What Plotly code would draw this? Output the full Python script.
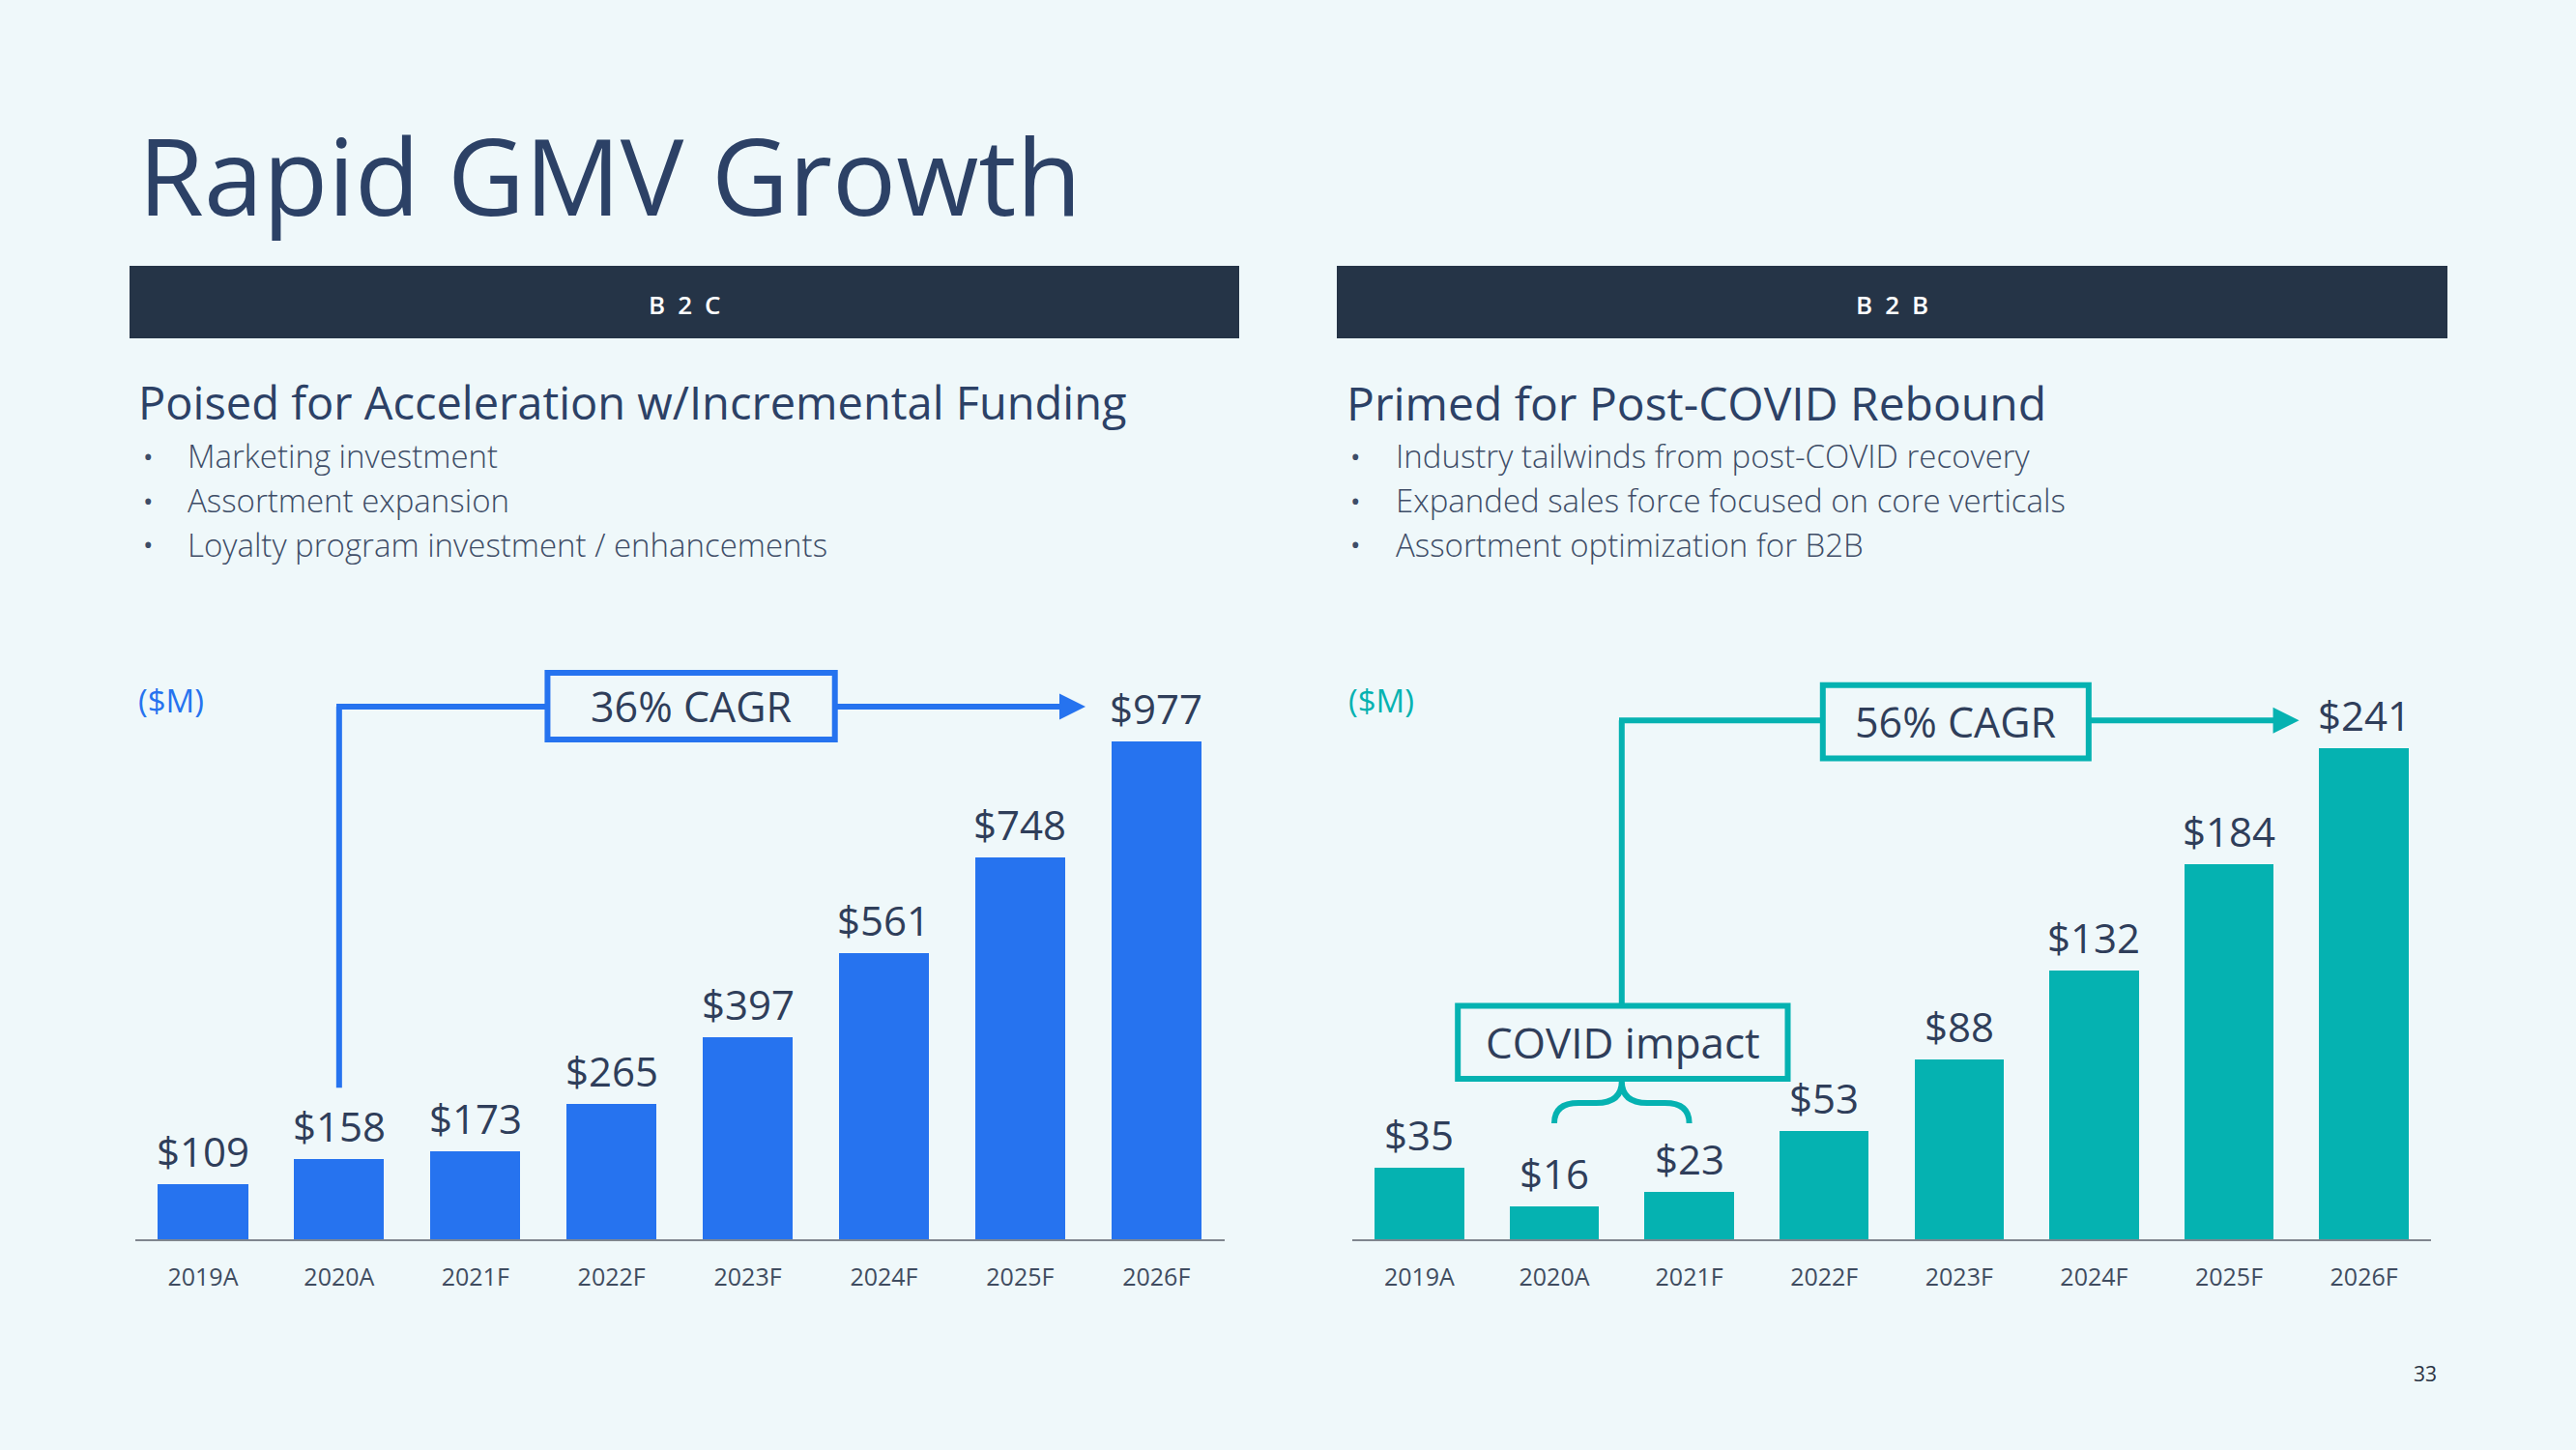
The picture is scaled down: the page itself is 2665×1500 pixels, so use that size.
import plotly.graph_objects as go

# ---------------- data ----------------
categories = ["2019A", "2020A", "2021F", "2022F", "2023F", "2024F", "2025F", "2026F"]
b2c_values = [109, 158, 173, 265, 397, 561, 748, 977]
b2b_values = [35, 16, 23, 53, 88, 132, 184, 241]
b2c_cagr_label = "36% CAGR"
b2b_cagr_label = "56% CAGR"
covid_label = "COVID impact"
unit_label = "($M)"
title_text = "Rapid GMV Growth"
b2c_header = "B\u20022\u2002C"
b2b_header = "B\u20022\u2002B"
b2c_subtitle = "Poised for Acceleration w/Incremental Funding"
b2b_subtitle = "Primed for Post-COVID Rebound"
b2c_bullets = ["Marketing investment", "Assortment expansion",
               "Loyalty program investment / enhancements"]
b2b_bullets = ["Industry tailwinds from post-COVID recovery",
               "Expanded sales force focused on core verticals",
               "Assortment optimization for B2B"]
page_number = "33"

# ---------------- style ----------------
W, H = 2665, 1500
FONT = "Open Sans"
BG = "#EFF8FA"
BLUE = "#2673EF"
TEAL = "#05B2B1"
NAVY = "#2C4166"
DARK = "#253447"
LABEL = "#2F3E5A"
BODY = "#3E4D67"
TICK = "#3F4C60"
AXIS = "#80868E"
LW = 6


def fx(p):
    return p / W


def fy(p):
    return 1 - p / H


LEFT_DOM = (139.5, 1266.7)
RIGHT_DOM = (1398.6, 2515.4)
Y_BOTTOM, Y_TOP = 1282, 640
b2c_ymax = 1217
b2b_ymax = 304.3

xs = list(range(len(categories)))

fig = go.Figure()
fig.add_trace(go.Bar(x=xs, y=b2c_values, marker=dict(color=BLUE, line=dict(width=0)),
                     width=0.662, xaxis="x", yaxis="y", hoverinfo="skip"))
fig.add_trace(go.Bar(x=xs, y=b2b_values, marker=dict(color=TEAL, line=dict(width=0)),
                     width=0.662, xaxis="x2", yaxis="y2", hoverinfo="skip"))

ann = []
shapes = []

# value labels
for xr, yr, vals in (("x", "y", b2c_values), ("x2", "y2", b2b_values)):
    for i, v in zip(xs, vals):
        ann.append(dict(x=i, y=v, xref=xr, yref=yr, text=f"${v}", showarrow=False,
                        yanchor="bottom", yshift=4,
                        font=dict(family=FONT, size=42, color=LABEL, weight=500)))

# header bars
for (x0, x1), txt in (((134, 1282), b2c_header), ((1383, 2532), b2b_header)):
    shapes.append(dict(type="rect", xref="paper", yref="paper", x0=fx(x0), x1=fx(x1),
                       y0=fy(350), y1=fy(275), fillcolor=DARK, line=dict(width=0), layer="below"))
    ann.append(dict(x=fx((x0 + x1) / 2), y=fy(315), xref="paper", yref="paper", text=txt,
                    showarrow=False, xanchor="center", yanchor="middle",
                    font=dict(family=FONT, size=26, color="#FFFFFF", weight=600)))

# title
ann.append(dict(x=fx(141), y=fy(180), xref="paper", yref="paper", text=title_text,
                showarrow=False, xanchor="left", yanchor="middle",
                font=dict(family=FONT, size=110, color=NAVY, weight=500)))

# subtitles & bullets
for x_sub, x_dot, x_txt, sub, bullets, sub_size in (
        (141, 146, 192, b2c_subtitle, b2c_bullets, 47),
        (1391, 1395, 1442, b2b_subtitle, b2b_bullets, 48)):
    ann.append(dict(x=fx(x_sub), y=fy(416), xref="paper", yref="paper", text=sub,
                    showarrow=False, xanchor="left", yanchor="middle",
                    font=dict(family=FONT, size=sub_size, color=NAVY, weight=500)))
    for k, b in enumerate(bullets):
        yy = 471.7 + k * 45.9
        ann.append(dict(x=fx(x_dot), y=fy(yy), xref="paper", yref="paper", text="•",
                        showarrow=False, xanchor="left", yanchor="middle",
                        font=dict(family=FONT, size=28, color=BODY)))
        ann.append(dict(x=fx(x_txt), y=fy(yy), xref="paper", yref="paper", text=b,
                        showarrow=False, xanchor="left", yanchor="middle",
                        font=dict(family=FONT, size=33, color=BODY, weight=300)))

# ($M) unit labels
for xpix, col in ((141, BLUE), (1393, TEAL)):
    ann.append(dict(x=fx(xpix), y=fy(724), xref="paper", yref="paper", text=unit_label,
                    showarrow=False, xanchor="left", yanchor="middle",
                    font=dict(family=FONT, size=33, color=col, weight=400)))

# page number
ann.append(dict(x=fx(2509), y=fy(1421), xref="paper", yref="paper", text=page_number,
                showarrow=False, xanchor="center", yanchor="middle",
                font=dict(family=FONT, size=21, color="#2B3444")))


def line(xr, yr, x0, y0, x1, y1, col):
    shapes.append(dict(type="line", xref=xr, yref=yr, x0=x0, y0=y0, x1=x1, y1=y1,
                       line=dict(color=col, width=LW)))


def box(xr, yr, x0, x1, y0, y1, col, text, size):
    shapes.append(dict(type="rect", xref=xr, yref=yr, x0=x0, x1=x1, y0=y0, y1=y1,
                       fillcolor="rgba(0,0,0,0)", line=dict(color=col, width=LW)))
    ann.append(dict(x=(x0 + x1) / 2, y=(y0 + y1) / 2, xref=xr, yref=yr, text=text,
                    showarrow=False, xanchor="center", yanchor="middle",
                    font=dict(family=FONT, size=size, color=LABEL, weight=500)))


def arrow(xr, yr, x0, x1, yv, col):
    ann.append(dict(x=x1, y=yv, ax=x0, ay=yv, xref=xr, yref=yr, axref=xr, ayref=yr,
                    text="", showarrow=True, arrowhead=2, arrowsize=0.9, arrowwidth=LW,
                    arrowcolor=col, standoff=0))


# ---- B2C connector (36% CAGR) ----
c_line_y = 1044.6
line("x", "y", 1, 297, 1, c_line_y, BLUE)
line("x", "y", 1 - 0.02, c_line_y, 2.53, c_line_y, BLUE)
box("x", "y", 2.53, 4.64, 980, 1111, BLUE, b2c_cagr_label, 43)
arrow("x", "y", 4.64, 6.48, c_line_y, BLUE)

# ---- B2B connector (56% CAGR) ----
t_line_y = 254.4
line("x2", "y2", 1.5, 114.5, 1.5, t_line_y, TEAL)
line("x2", "y2", 1.5 - 0.02, t_line_y, 2.99, t_line_y, TEAL)
box("x2", "y2", 2.99, 4.96, 235.8, 271.7, TEAL, b2b_cagr_label, 43)
arrow("x2", "y2", 4.96, 6.52, t_line_y, TEAL)

# COVID impact box and brace
box("x2", "y2", 0.285, 2.73, 78.7, 114.5, TEAL, covid_label, 44)
bl, br, bm = 1.0, 2.0, 1.5
y_end, y_mid, y_top = 56.9, 66.8, 77.5
brace = (f"M {bl},{y_end} Q {bl},{y_mid} {bl+0.18},{y_mid} L {bm-0.19},{y_mid} "
         f"Q {bm},{y_mid} {bm},{y_top} Q {bm},{y_mid} {bm+0.19},{y_mid} "
         f"L {br-0.18},{y_mid} Q {br},{y_mid} {br},{y_end}")
shapes.append(dict(type="path", xref="x2", yref="y2", path=brace,
                   line=dict(color=TEAL, width=LW), fillcolor="rgba(0,0,0,0)"))

axis_common = dict(range=[-0.5, 7.5], tickvals=xs, ticktext=categories, showgrid=False,
                   zeroline=False, showline=True, linecolor=AXIS, linewidth=2, ticks="",
                   ticklabelstandoff=16, fixedrange=True,
                   tickfont=dict(family=FONT, size=25, color=TICK))
yaxis_common = dict(visible=False, showgrid=False, zeroline=False, fixedrange=True,
                    domain=[fy(Y_BOTTOM), fy(Y_TOP)])

fig.update_layout(
    width=W, height=H, margin=dict(l=0, r=0, t=0, b=0),
    paper_bgcolor=BG, plot_bgcolor="rgba(0,0,0,0)",
    showlegend=False, bargap=0,
    xaxis=dict(domain=[fx(LEFT_DOM[0]), fx(LEFT_DOM[1])], anchor="y", **axis_common),
    yaxis=dict(range=[0, b2c_ymax], anchor="x", **yaxis_common),
    xaxis2=dict(domain=[fx(RIGHT_DOM[0]), fx(RIGHT_DOM[1])], anchor="y2", **axis_common),
    yaxis2=dict(range=[0, b2b_ymax], anchor="x2", **yaxis_common),
    annotations=ann, shapes=shapes,
)

fig.write_html("out.html",
               config={"displayModeBar": False, "staticPlot": True},
               post_script="document.body.style.margin='0';"
                           "document.body.style.background='" + BG + "';")
